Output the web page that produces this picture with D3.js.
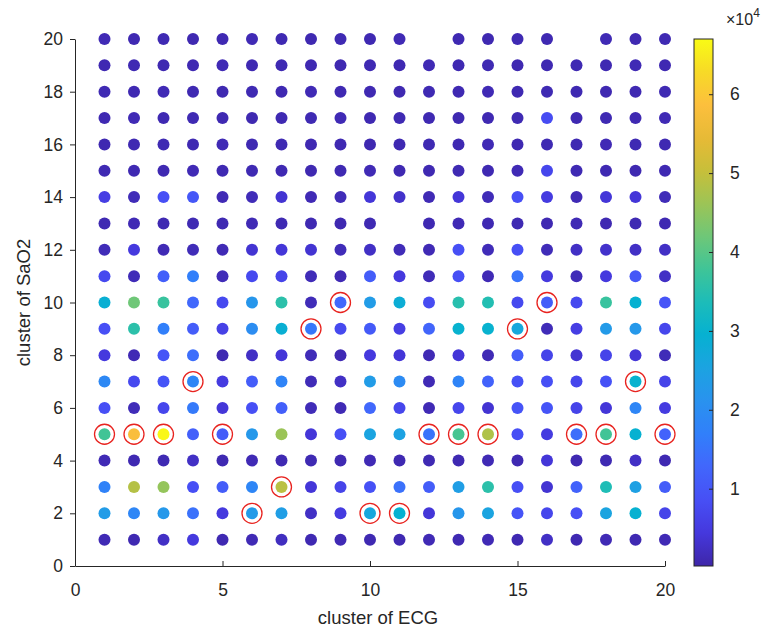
<!DOCTYPE html>
<html>
<head>
<meta charset="utf-8">
<script src="https://cdn.jsdelivr.net/npm/d3@7"></script>
<style>
  body { margin: 0; background: #fff; }
  svg { display: block; font-family: "Liberation Sans", Arial, sans-serif; }
  .axis-label { fill: #262626; font-size: 18.5px; }
</style>
</head>
<body>
<svg id="chart" width="777" height="634"></svg>
<script>
// cluster ids
var ecgClusters = [1, 2, 3, 4, 5, 6, 7, 8, 9, 10, 11, 12, 13, 14, 15, 16, 17, 18, 19, 20];
var sao2Clusters = [20, 19, 18, 17, 16, 15, 14, 13, 12, 11, 10, 9, 8, 7, 6, 5, 4, 3, 2, 1];

// counts, one row per SaO2 cluster (same order as sao2Clusters), columns = ECG cluster 1..20
// null = no point drawn
var counts = [
  [1200, 1000, 1100, 900, 1000, 1200, 1000, 900, 1100, 1000, 1200, null, 1000, 900, 1100, 1000, null, 1200, 1000, 1100],
  [1000, 1100, 900, 1000, 1200, 1000, 1100, 1000, 900, 1100, 1000, 1200, 1000, 1100, 900, 1000, 1100, 1000, 1200, 1000],
  [1100, 1000, 1200, 1000, 900, 1100, 1000, 1200, 1000, 1000, 900, 1100, 1000, 1200, 1000, 1100, 1000, 900, 1000, 1100],
  [1000, 1200, 1000, 1100, 1000, 900, 1000, 1100, 1200, 1000, 1100, 1000, 900, 1000, 1100, 8000, 1000, 1100, 1000, 1200],
  [900, 1000, 1100, 1000, 1200, 1000, 1100, 1000, 1000, 900, 1000, 1100, 1000, 1200, 1000, 1100, 1000, 1200, 1100, 1000],
  [1100, 1000, 1000, 1200, 1000, 1100, 1000, 900, 1000, 1200, 1000, 1000, 1100, 1000, 1200, 7000, 1100, 1000, 900, 1000],
  [5500, 1500, 8500, 10000, 1200, 1500, 3500, 1200, 1500, 4000, 3000, 1200, 4000, 1500, 8500, 5000, 1200, 4000, 4000, 1500],
  [1000, 1200, 1000, 1100, 1000, 1200, 1100, 1000, 900, 1100, null, 1000, 1200, 1000, 1100, 1000, 1200, 1000, 1100, 1000],
  [1500, 4500, 1200, 1500, 1200, 3500, 4000, 3500, 1500, 2500, 1500, 1200, 8500, 1500, 8500, 1500, 2500, 3000, 2500, 2500],
  [7500, 1500, 11500, 17000, 1500, 7500, 6500, 1500, 1200, 11000, 4500, 1500, 8500, 1200, 15000, 4500, 1500, 4500, 10000, 2500],
  [29000, 42000, 37000, 13000, 7500, 22000, 35500, 1500, 13000, 23500, 28500, 8000, 35000, 34500, 7500, 11000, 7500, 37000, 29500, 9500],
  [8500, 35500, 17000, 11000, 6000, 20000, 29000, 15500, 7500, 10500, 5500, 12500, 30000, 30000, 26500, 1500, 5500, 23000, 22500, 7000],
  [4500, 1200, 9500, 14000, 1000, 2500, 4000, 1500, 1200, 4500, 4000, 1200, 4000, 1200, 11000, 6500, 3500, 6500, 4000, 1500],
  [19000, 7500, 9500, 18500, 5000, 11000, 18000, 1500, 2500, 23500, 19500, 1200, 18000, 12000, 9000, 8500, 7000, 9000, 30000, 6500],
  [8500, 1500, 7000, 16000, 4000, 8500, 11500, 1500, 1200, 13000, 7000, 1200, 7000, 3500, 9500, 9500, 6500, 4000, 18500, 5000],
  [38000, 58000, 66500, 11500, 11000, 22500, 46000, 4000, 8500, 25500, 25000, 15000, 38500, 48000, 8500, 5000, 14000, 38000, 29500, 12000],
  [1200, 1000, 1100, 2500, 1000, 1200, 1000, 1100, 1000, 1200, 1000, 1100, 1000, 1200, 1000, 4000, 1000, 1100, 2500, 1000],
  [17500, 48500, 45500, 8500, 11000, 18500, 49000, 4000, 6500, 9000, 14500, 11000, 24000, 35500, 8500, 3500, 12000, 34000, 24500, 11000],
  [23500, 18500, 22500, 14500, 4500, 23000, 24000, 2500, 5000, 26500, 29500, 4000, 22000, 25500, 9500, 7000, 8500, 25500, 29500, 6500],
  [1200, 1000, 2500, 4500, 1000, 1200, 2000, 1000, 1200, 1000, 1000, 1200, 1000, 1200, 1000, 2500, 1000, 1200, 1000, 1200]
];

// SaO2 cluster that is circled in red, for each ECG cluster 1..20
var highlightSaO2 = [5, 5, 5, 7, 5, 2, 3, 9, 10, 2, 2, 5, 5, 5, 9, 10, 5, 5, 7, 5];

var xTicks = [0, 5, 10, 15, 20];
var yTicks = [0, 2, 4, 6, 8, 10, 12, 14, 16, 18, 20];
var cbarTicks = [10000, 20000, 30000, 40000, 50000, 60000];
var cbarTickLabels = ["1", "2", "3", "4", "5", "6"];
var colorMin = 200, colorMax = 67000;

// parula colormap (approximate key colours)
var parulaPos = [0, 0.063, 0.125, 0.19, 0.25, 0.31, 0.375, 0.44, 0.5, 0.56, 0.625, 0.69, 0.75, 0.81, 0.875, 0.94, 1];
var parulaCol = ["#3e26a8", "#4538dd", "#474ff5", "#4167fc", "#317ffa", "#2a91ef", "#1ca3e1", "#06b1d1",
                 "#1cbcb9", "#3dc499", "#6ec778", "#9ec455", "#c7bf3a", "#e6ba36", "#fcbf3d", "#f7db26", "#f9fb15"];
var parula = d3.scaleLinear().domain(parulaPos).range(parulaCol).interpolate(d3.interpolateRgb).clamp(true);
var color = function(v) { return parula((v - colorMin) / (colorMax - colorMin)); };

var svg = d3.select("#chart");
var plotL = 75, plotR = 665, plotT = 39, plotB = 566;

var x = d3.scaleLinear().domain([0, 20]).range([plotL, plotR]);
var y = d3.scaleLinear().domain([0, 20]).range([plotB, plotT]);

// flatten to points
var points = [];
sao2Clusters.forEach(function(s, r) {
  ecgClusters.forEach(function(e, c) {
    if (counts[r][c] !== null) points.push({ ecg: e, sao2: s, value: counts[r][c] });
  });
});

// axes (no box, like matlab "box off")
var xAxis = svg.append("g")
  .attr("transform", "translate(0," + plotB + ")")
  .call(d3.axisBottom(x).tickValues(xTicks).tickSizeInner(-5).tickSizeOuter(0));
var yAxis = svg.append("g")
  .attr("transform", "translate(" + plotL + ",0)")
  .call(d3.axisLeft(y).tickValues(yTicks).tickSizeInner(5).tickSizeOuter(0).tickPadding(7));
[xAxis, yAxis].forEach(function(a) {
  a.select(".domain").attr("stroke", "#262626");
  a.selectAll(".tick line").attr("stroke", "#262626");
  a.selectAll(".tick text").attr("fill", "#262626").style("font-size", "17.5px");
});
xAxis.selectAll(".tick text").attr("y", 14).attr("dy", "0.9em");

svg.append("text").attr("class", "axis-label")
  .attr("x", (plotL + plotR) / 2 + 8).attr("y", 624)
  .attr("text-anchor", "middle").text("cluster of ECG");
svg.append("text").attr("class", "axis-label")
  .attr("transform", "translate(30," + (plotT + plotB) / 2 + ") rotate(-90)")
  .attr("text-anchor", "middle").text("cluster of SaO2");

// dots
svg.append("g").selectAll("circle")
  .data(points)
  .enter().append("circle")
  .attr("cx", function(d) { return x(d.ecg); })
  .attr("cy", function(d) { return y(d.sao2); })
  .attr("r", 6)
  .attr("fill", function(d) { return color(d.value); });

// red rings on the highlighted cluster pairs
svg.append("g").selectAll("circle")
  .data(ecgClusters)
  .enter().append("circle")
  .attr("cx", function(d) { return x(d); })
  .attr("cy", function(d, i) { return y(highlightSaO2[i]); })
  .attr("r", 10)
  .attr("fill", "none")
  .attr("stroke", "#e8231f")
  .attr("stroke-width", 1.3);

// colorbar
var cbX = 694, cbW = 19;
var grad = svg.append("defs").append("linearGradient")
  .attr("id", "parula").attr("x1", 0).attr("y1", 1).attr("x2", 0).attr("y2", 0);
grad.selectAll("stop")
  .data(parulaPos)
  .enter().append("stop")
  .attr("offset", function(d) { return d; })
  .attr("stop-color", function(d) { return parula(d); });

var cb = d3.scaleLinear().domain([colorMin, colorMax]).range([plotB, plotT]);
svg.append("rect")
  .attr("x", cbX).attr("y", plotT).attr("width", cbW).attr("height", plotB - plotT)
  .attr("fill", "url(#parula)").attr("stroke", "#262626").attr("stroke-width", 1);

var cbAxis = svg.append("g")
  .attr("transform", "translate(" + (cbX + cbW) + ",0)")
  .call(d3.axisRight(cb).tickValues(cbarTicks).tickFormat(function(d, i) { return cbarTickLabels[i]; })
    .tickSizeInner(-4).tickSizeOuter(0).tickPadding(17));
cbAxis.select(".domain").remove();
cbAxis.selectAll(".tick line").attr("stroke", "#262626");
cbAxis.selectAll(".tick text").attr("fill", "#262626").style("font-size", "17.5px");

var exp = svg.append("text").attr("x", 726).attr("y", 25).attr("fill", "#262626").style("font-size", "16px");
exp.append("tspan").text("\u00d710");
exp.append("tspan").attr("dy", -8).style("font-size", "12px").text("4");
</script>
</body>
</html>
